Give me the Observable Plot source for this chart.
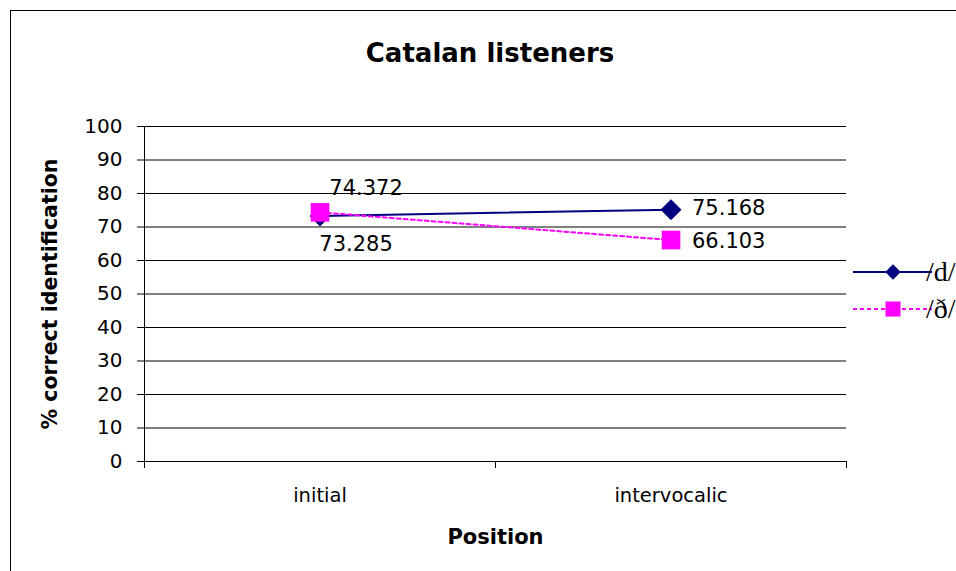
<!DOCTYPE html>
<html>
<head>
<meta charset="utf-8">
<script src="https://cdn.jsdelivr.net/npm/d3@7"></script>
<script src="https://cdn.jsdelivr.net/npm/@observablehq/plot@0.6"></script>
<style>
  html, body { margin: 0; padding: 0; overflow: hidden; background: #fff; }
  #wrap { position: relative; width: 956px; height: 571px; overflow: hidden; background: #fff; }
  #frame { position: absolute; left: 10px; top: 10px; width: 1100px; height: 1100px; border: 1px solid #000; box-sizing: border-box; }
  #title { position: absolute; left: 0; top: 40px; width: 980px; text-align: center;
           font: bold 26px "DejaVu Sans", sans-serif; line-height: 26px; color: #000; }
  #chart { position: absolute; left: 0; top: 100px; }
  #legend { position: absolute; left: 0; top: 0; }
</style>
</head>
<body>
<div id="wrap">
  <div id="frame"></div>
  <div id="title">Catalan listeners</div>
  <div id="chart"></div>
  <div id="legend"></div>
</div>
<script>
// ---- data ----
const positions = ["initial", "intervocalic"];
const seriesNames = ["/d/", "/ð/"];
const dValues = [73.285, 75.168];
const dhValues = [74.372, 66.103];
const yTicks = [0, 10, 20, 30, 40, 50, 60, 70, 80, 90, 100];
const seriesColors = ["#000080", "#FF00FF"];

// ---- build table ----
const rows = [];
positions.forEach((p, i) => {
  rows.push({series: seriesNames[0], pos: p, idx: i + 0.5, value: dValues[i]});
  rows.push({series: seriesNames[1], pos: p, idx: i + 0.5, value: dhValues[i]});
});
const dRows = rows.filter(r => r.series === seriesNames[0]);
const dhRows = rows.filter(r => r.series === seriesNames[1]);
const boundaryTicks = d3.range(0, positions.length + 1);
const centerTicks = positions.map((p, i) => i + 0.5);

const plot = Plot.plot({
  width: 956,
  height: 471,
  marginTop: 26,
  marginBottom: 110,
  marginLeft: 144,
  marginRight: 110,
  style: {fontFamily: "DejaVu Sans, sans-serif", fontSize: "20px", color: "#000", background: "none", overflow: "visible"},
  x: {type: "linear", domain: [0, positions.length]},
  y: {domain: [0, 100]},
  marks: [
    Plot.gridY(yTicks.filter(t => t > 0), {stroke: "#000", strokeOpacity: 1, strokeWidth: 1}),
    Plot.ruleX([0], {stroke: "#000", strokeWidth: 1}),
    Plot.ruleY([0], {stroke: "#000", strokeWidth: 1}),
    Plot.axisY({ticks: yTicks, tickSize: 7, tickPadding: 15, label: null, fontSize: 20}),
    Plot.axisX({ticks: boundaryTicks, tickSize: 7, tickFormat: () => "", label: null}),
    Plot.axisX({ticks: centerTicks, tickSize: 0, tickPadding: 27, label: null, fontSize: 19.5,
                tickFormat: v => positions[Math.round(v - 0.5)]}),
    Plot.line(dRows, {x: "idx", y: "value", stroke: seriesColors[0], strokeWidth: 2}),
    Plot.line(dhRows, {x: "idx", y: "value", stroke: seriesColors[1], strokeWidth: 2, strokeDasharray: "4,3"}),
    Plot.dot(dRows, {x: "idx", y: "value", symbol: "diamond2", r: 9, fill: seriesColors[0], stroke: seriesColors[0], strokeWidth: 1}),
    Plot.dot(dhRows, {x: "idx", y: "value", symbol: "square", r: 10.5, fill: seriesColors[1], stroke: "none"}),
    // value labels
    Plot.text([dhRows[0]], {x: "idx", y: "value", text: d => d3.format(".3f")(d.value), dx: 46, dy: -24, fontSize: 21}),
    Plot.text([dRows[0]], {x: "idx", y: "value", text: d => d3.format(".3f")(d.value), dx: 36, dy: 28, fontSize: 21}),
    Plot.text([dRows[1]], {x: "idx", y: "value", text: d => d3.format(".3f")(d.value), dx: 21, dy: -1, textAnchor: "start", fontSize: 21}),
    Plot.text([dhRows[1]], {x: "idx", y: "value", text: d => d3.format(".3f")(d.value), dx: 21, dy: 1, textAnchor: "start", fontSize: 21}),
    // axis titles
    Plot.text(["Position"], {frameAnchor: "bottom", dy: 82, text: d => d, fontSize: 21, fontWeight: "bold", lineAnchor: "bottom"}),
    Plot.text(["% correct identification"], {frameAnchor: "left", dx: -88, rotate: -90, text: d => d, fontSize: 20.5, fontWeight: "bold", lineAnchor: "bottom", textAnchor: "middle"})
  ]
});
document.getElementById("chart").appendChild(plot);

// ---- legend ----
const legendY = [272, 309];
const ns = "http://www.w3.org/2000/svg";
const lsvg = document.createElementNS(ns, "svg");
lsvg.setAttribute("width", 956);
lsvg.setAttribute("height", 571);
lsvg.style.overflow = "visible";
seriesNames.forEach((name, i) => {
  const y = legendY[i];
  const line = document.createElementNS(ns, "line");
  line.setAttribute("x1", 853); line.setAttribute("x2", 932);
  line.setAttribute("y1", y); line.setAttribute("y2", y);
  line.setAttribute("stroke", seriesColors[i]);
  line.setAttribute("stroke-width", 2);
  if (i === 1) line.setAttribute("stroke-dasharray", "4,3");
  lsvg.appendChild(line);
  const sym = document.createElementNS(ns, "path");
  const type = i === 0 ? d3.symbolDiamond2 : d3.symbolSquare;
  const r = i === 0 ? 7 : 8.5;
  sym.setAttribute("d", d3.symbol(type, r * r * Math.PI)());
  sym.setAttribute("transform", `translate(893,${y})`);
  sym.setAttribute("fill", seriesColors[i]);
  lsvg.appendChild(sym);
  const t = document.createElementNS(ns, "text");
  t.setAttribute("x", 926);
  t.setAttribute("y", y + 9);
  t.setAttribute("font-family", "Liberation Serif, Times New Roman, serif");
  t.setAttribute("font-size", 28);
  t.textContent = name;
  lsvg.appendChild(t);
});
document.getElementById("legend").appendChild(lsvg);
</script>
</body>
</html>
